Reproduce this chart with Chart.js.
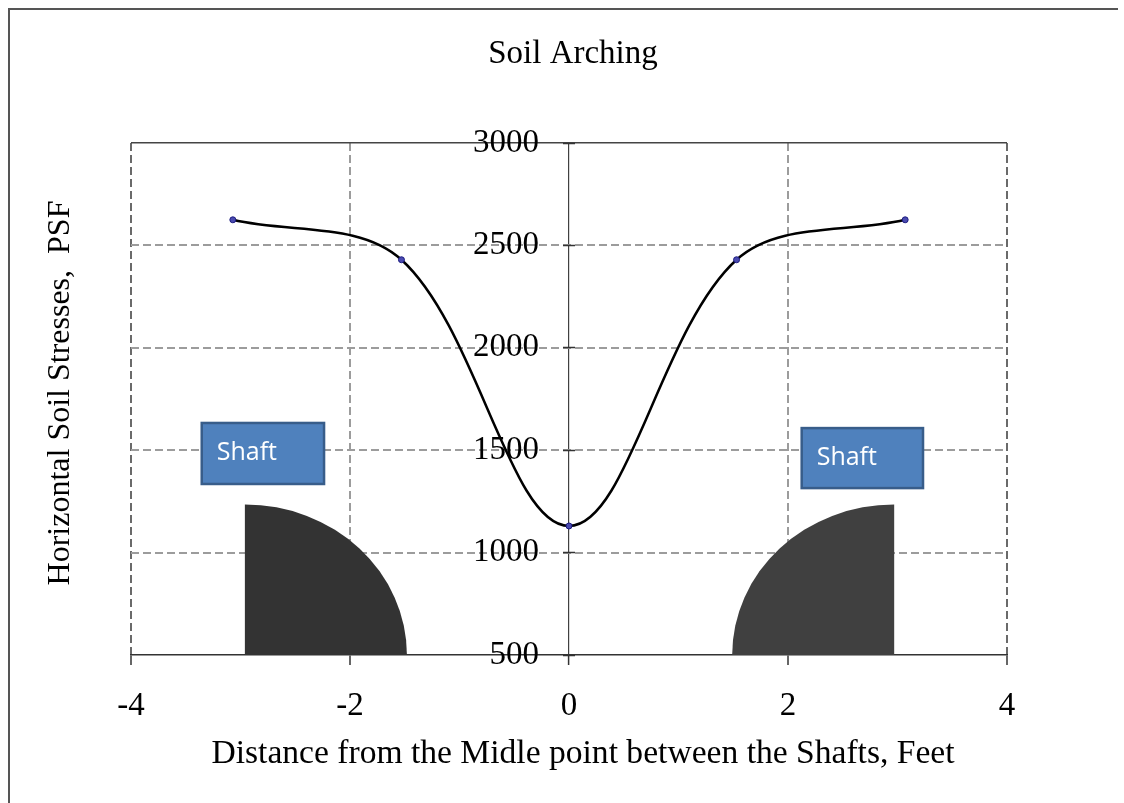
<!DOCTYPE html>
<html><head><meta charset="utf-8">
<script src="https://cdn.jsdelivr.net/npm/chart.js@4"></script>
<style>html,body{margin:0;padding:0;background:#fff}#wrap{width:1124px;height:803px;position:relative}</style>
</head><body><div id="wrap"><canvas id="c" width="1124" height="803"></canvas></div>
<script>
const titleText = 'Soil Arching';
const xAxisTitle = 'Distance from the Midle point between the Shafts, Feet';
const yAxisTitle = 'Horizontal Soil Stresses,  PSF';
const distances = [-3.07, -1.53, 0, 1.53, 3.07];
const stresses = [2625, 2430, 1130, 2430, 2625];
const xTickValues = [-4, -2, 0, 2, 4];
const yTickValues = [500, 1000, 1500, 2000, 2500, 3000];
const shaftLabels = ['Shaft', 'Shaft'];

const SERIF = '"Liberation Serif", "Times New Roman", serif';

const decorPlugin = {
  id: 'decor',
  beforeDatasetsDraw(chart) {
    const {ctx, scales: {x, y}} = chart;
    const base = y.getPixelForValue(500);
    const shapes = [
      {cx: -2.96, side: 1, color: '#333333'},
      {cx: 2.97, side: -1, color: '#404040'}
    ];
    const rx = 1.48, topVal = 1235;
    shapes.forEach(s => {
      const cx = x.getPixelForValue(s.cx);
      const rxp = Math.abs(x.getPixelForValue(s.cx + rx) - cx);
      const ryp = base - y.getPixelForValue(topVal);
      ctx.save();
      ctx.fillStyle = s.color;
      ctx.beginPath();
      ctx.moveTo(cx, base);
      if (s.side > 0) ctx.ellipse(cx, base, rxp, ryp, 0, -Math.PI / 2, 0);
      else ctx.ellipse(cx, base, rxp, ryp, 0, Math.PI, 1.5 * Math.PI);
      ctx.closePath();
      ctx.fill();
      ctx.restore();
    });
    const boxes = [
      {x0: -3.354, x1: -2.237, y0: 1633, y1: 1335},
      {x0: 2.125, x1: 3.233, y0: 1608, y1: 1315}
    ];
    boxes.forEach((b, i) => {
      const l = x.getPixelForValue(b.x0), r = x.getPixelForValue(b.x1);
      const t = y.getPixelForValue(b.y0), bt = y.getPixelForValue(b.y1);
      ctx.save();
      ctx.fillStyle = '#4f81bd';
      ctx.strokeStyle = '#385d8a';
      ctx.lineWidth = 2.5;
      ctx.fillRect(l, t, r - l, bt - t);
      ctx.strokeRect(l, t, r - l, bt - t);
      ctx.fillStyle = '#ffffff';
      ctx.font = '25px "Open Sans", "Noto Sans", sans-serif';
      ctx.textAlign = 'left';
      ctx.textBaseline = 'alphabetic';
      ctx.fillText(shaftLabels[i], l + 15, t + 37);
      ctx.restore();
    });
  },
  afterDraw(chart) {
    const {ctx} = chart;
    ctx.save();
    ctx.strokeStyle = '#555555';
    ctx.lineWidth = 2;
    ctx.beginPath();
    ctx.moveTo(9, 803);
    ctx.lineTo(9, 9);
    ctx.lineTo(1118, 9);
    ctx.stroke();
    ctx.fillStyle = '#000';
    ctx.textAlign = 'center';
    ctx.textBaseline = 'alphabetic';
    ctx.font = '33px ' + SERIF;
    ctx.fillText(titleText, 573, 63);
    ctx.font = '33.6px ' + SERIF;
    ctx.fillText(xAxisTitle, 583, 763);
    ctx.font = '32px ' + SERIF;
    ctx.translate(69, 393);
    ctx.rotate(-Math.PI / 2);
    ctx.fillText(yAxisTitle, 0, 0);
    ctx.restore();
  }
};

new Chart(document.getElementById('c'), {
  type: 'line',
  data: {
    datasets: [{
      data: distances.map((d, i) => ({x: d, y: stresses[i]})),
      borderColor: '#000000',
      borderWidth: 2.5,
      tension: 0.35,
      pointRadius: 3,
      pointBackgroundColor: '#4a4ab0',
      pointBorderColor: '#1c1c80',
      pointBorderWidth: 1,
      fill: false
    }]
  },
  options: {
    responsive: false,
    animation: false,
    devicePixelRatio: 1,
    layout: {padding: {left: 131, right: 117, top: 143, bottom: 88}},
    plugins: {legend: {display: false}, title: {display: false}, tooltip: {enabled: false}},
    scales: {
      x: {
        type: 'linear',
        min: -4, max: 4,
        afterBuildTicks: s => { s.ticks = xTickValues.map(v => ({value: v})); },
        afterFit: s => { s.height = 60; },
        ticks: {font: {family: SERIF, size: 33}, color: '#000', padding: 22,
          callback: v => String(v)},
        grid: {
          color: c => (c.tick && c.tick.value === 0) ? '#404040' : ((c.tick && Math.abs(c.tick.value) === 4) ? '#6a6a6a' : '#9c9c9c'),
          lineWidth: c => (c.tick && c.tick.value === 0) ? 1.2 : 2,
          tickLength: 10,
          tickColor: '#333333',
          tickWidth: 1.5
        },
        border: {display: true, color: '#333333', width: 1.5,
          dash: c => (c.tick && c.tick.value === 0) ? [] : [8, 4]}
      },
      y: {
        type: 'linear',
        min: 500, max: 3000,
        position: {x: -0.275},
        afterBuildTicks: s => { s.ticks = yTickValues.map(v => ({value: v})); },
        ticks: {font: {family: SERIF, size: 33}, color: '#000', callback: v => String(v)},
        grid: {
          color: c => (c.tick && c.tick.value === 500) ? 'rgba(0,0,0,0)' : ((c.tick && c.tick.value === 3000) ? '#444444' : '#9c9c9c'),
          lineWidth: c => (c.tick && c.tick.value === 3000) ? 1.5 : 2,
          drawTicks: false
        },
        border: {display: false,
          dash: c => (c.tick && c.tick.value === 3000) ? [] : [8, 4]}
      },
      yTicks: {
        type: 'linear',
        axis: 'y',
        min: 500, max: 3000,
        position: {x: 0.055},
        afterBuildTicks: s => { s.ticks = yTickValues.map(v => ({value: v})); },
        ticks: {display: false},
        grid: {drawOnChartArea: false, drawTicks: true, tickLength: 12, tickColor: '#333333', tickWidth: 1.5},
        border: {display: false}
      }
    }
  },
  plugins: [decorPlugin]
});
</script>
</body></html>
